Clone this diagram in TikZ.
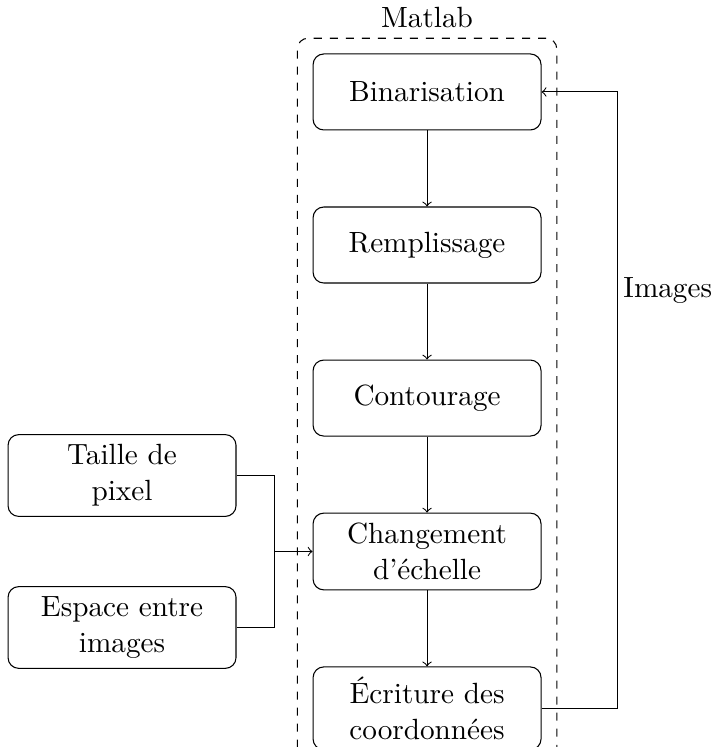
\documentclass[11pt,tikz,border=0pt]{standalone}
\usetikzlibrary{positioning, fit}

\tikzset{
  etape/.style={draw, rounded corners, minimum width=3cm, minimum height=1cm, align=center},
  fleche/.style={->},
}

\begin{document}
\begin{tikzpicture}[node distance=1cm]
  \useasboundingbox (-5.62,1.21) rectangle (3.80,-8.62);

  % chaine de traitement
  \node [etape] (bin) {Binarisation};
  \node [etape, below=of bin] (remp) {Remplissage};
  \node [etape, below=of remp] (cont) {Contourage};
  \node [etape, below=of cont] (ech) {Changement\\d’échelle};
  \node [etape, below=of ech] (ecr) {Écriture des\\coordonnées};

  % parametres
  \node [etape, left=of ech, yshift=1cm] (taille) {Taille de\\pixel};
  \node [etape, left=of ech, yshift=-1cm] (espace) {Espace entre\\images};

  \node [draw, dashed, rounded corners, inner sep=0.2cm, fit=(bin) (ecr), label=above:Matlab] (matlab) {};

  \foreach \a/\b in {bin/remp, remp/cont, cont/ech, ech/ecr}
    \draw [fleche] (\a) -- (\b);

  \coordinate (jonction) at ([xshift=-0.5cm]ech.west);
  \draw (taille.east) -| (jonction);
  \draw (espace.east) -| (jonction);
  \draw [fleche] (jonction) -- (ech.west);

  % boucle sur les images
  \coordinate (retour) at ([xshift=1cm]ecr.east);
  \draw [fleche] (ecr.east) -- (retour) |- (bin.east);
  \node [right, inner sep=2pt] (images) at ([yshift=5.5cm]retour) {Images};
\end{tikzpicture}
\end{document}
